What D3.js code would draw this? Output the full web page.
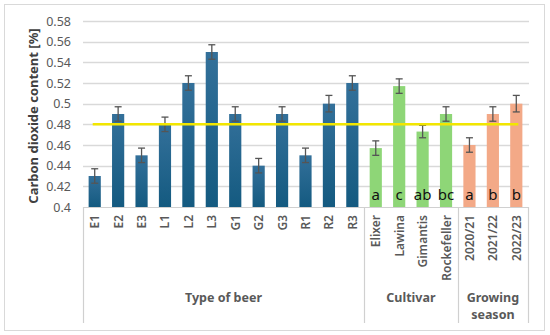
<!DOCTYPE html>
<html>
<head>
<meta charset="utf-8">
<script src="https://cdn.jsdelivr.net/npm/d3@7"></script>
<style>
  body { margin: 0; background: #fff; }
  svg { font-family: "Noto Sans", "Open Sans", sans-serif; }
</style>
</head>
<body>
<svg></svg>
<script>
// data
const categories = ['E1','E2','E3','L1','L2','L3','G1','G2','G3','R1','R2','R3',
    'Elixer','Lawina','Gimantis','Rockefeller','2020/21','2021/22','2022/23'];
const values = [0.43,0.49,0.45,0.48,0.52,0.55,0.49,0.44,0.49,0.45,0.50,0.52,
    0.457,0.517,0.473,0.49,0.46,0.49,0.50];
const errors = [0.007,0.007,0.007,0.007,0.007,0.007,0.007,0.007,0.007,0.007,0.008,0.007,
    0.007,0.007,0.006,0.007,0.007,0.007,0.008];
const groupOf = ['beer','beer','beer','beer','beer','beer','beer','beer','beer','beer','beer','beer',
    'cultivar','cultivar','cultivar','cultivar','season','season','season'];
const letters = ['','','','','','','','','','','','','a','c','ab','bc','a','b','b'];
const groups = [
    {key: 'beer', first: 'E1', last: 'R3', label: ['Type of beer']},
    {key: 'cultivar', first: 'Elixer', last: 'Rockefeller', label: ['Cultivar']},
    {key: 'season', first: '2020/21', last: '2022/23', label: ['Growing', 'season']}
];
const yTicks = [0.4,0.42,0.44,0.46,0.48,0.5,0.52,0.54,0.56,0.58];
const meanLine = 0.48;

const size = {w: 550, h: 335};
const plot = {l: 83, r: 528, t: 21, b: 207};
const svg = d3.select('svg').attr('width', size.w).attr('height', size.h);

// chart frame
svg.append('rect')
    .attr('x', 4.5).attr('y', 4.5)
    .attr('width', 540).attr('height', 326)
    .attr('fill', '#fff').attr('stroke', '#d9d9d9');

const x = d3.scaleBand()
    .domain(categories)
    .range([plot.l, plot.r])
    .paddingInner(0.48)
    .paddingOuter(0.24);
const y = d3.scaleLinear().domain([0.4, 0.58]).range([plot.b, plot.t]);

const colors = {beer: 'url(#gBlue)', cultivar: '#8ed677', season: '#f3a987'};

const defs = svg.append('defs');
const grad = defs.append('linearGradient').attr('id', 'gBlue')
    .attr('x1', 0).attr('y1', 0).attr('x2', 0).attr('y2', 1);
grad.append('stop').attr('offset', 0).attr('stop-color', '#33709a');
grad.append('stop').attr('offset', 1).attr('stop-color', '#145a80');

// gridlines
svg.append('g')
    .selectAll('line')
    .data(yTicks.slice(1))
    .join('line')
    .attr('x1', plot.l).attr('x2', plot.r + 1)
    .attr('y1', d => Math.round(y(d)) + 0.5).attr('y2', d => Math.round(y(d)) + 0.5)
    .attr('stroke', '#d9d9d9').attr('stroke-width', 1.5);

// y axis tick labels
const yAxis = d3.axisLeft(y).tickValues(yTicks).tickSize(0).tickPadding(12)
    .tickFormat(d => String(+d.toFixed(2)));
svg.append('g')
    .attr('transform', `translate(${plot.l},0)`)
    .call(yAxis)
    .call(g => g.select('.domain').remove())
    .selectAll('text')
    .attr('font-size', 12.5).attr('fill', '#595959')
    .style('font-family', '"Noto Sans", sans-serif');

// bars
svg.append('g')
    .selectAll('rect')
    .data(categories)
    .join('rect')
    .attr('x', d => x(d))
    .attr('width', x.bandwidth())
    .attr('y', (d, i) => y(values[i]))
    .attr('height', (d, i) => plot.b - y(values[i]))
    .attr('fill', (d, i) => colors[groupOf[i]]);

// error bars
const eb = svg.append('g').attr('stroke', '#555').attr('stroke-width', 1.3);
categories.forEach((c, i) => {
    const cx = x(c) + x.bandwidth() / 2;
    const y1 = y(values[i] + errors[i]), y2 = y(values[i] - errors[i]);
    eb.append('line').attr('x1', cx).attr('x2', cx).attr('y1', y1).attr('y2', y2);
    eb.append('line').attr('x1', cx - 3.5).attr('x2', cx + 3.5).attr('y1', y1).attr('y2', y1);
    eb.append('line').attr('x1', cx - 3.5).attr('x2', cx + 3.5).attr('y1', y2).attr('y2', y2);
});

// mean line
const firstC = x(categories[0]) + x.bandwidth() / 2;
const lastC = x(categories[categories.length - 1]) + x.bandwidth() / 2;
svg.append('line')
    .attr('x1', firstC - 2).attr('x2', lastC + 2)
    .attr('y1', y(meanLine)).attr('y2', y(meanLine))
    .attr('stroke', '#f2e600').attr('stroke-width', 2.5);

// significance letters
svg.append('g')
    .selectAll('text')
    .data(categories)
    .join('text')
    .attr('x', d => x(d) + x.bandwidth() / 2)
    .attr('y', 200)
    .attr('text-anchor', 'middle')
    .attr('font-size', 15)
    .attr('fill', '#111')
    .text((d, i) => letters[i]);

// x axis line + group separators
svg.append('line')
    .attr('x1', plot.l).attr('x2', plot.r)
    .attr('y1', plot.b + 0.5).attr('y2', plot.b + 0.5)
    .attr('stroke', '#d0d0d0').attr('stroke-width', 1.2);

const step = x.step();
const sepX = [plot.l];
groups.forEach(g => {
    sepX.push(x(g.last) + x.bandwidth() + (step - x.bandwidth()) / 2);
});
sepX[sepX.length - 1] = plot.r;
svg.append('g')
    .selectAll('line')
    .data(sepX)
    .join('line')
    .attr('x1', d => Math.round(d) + 0.5).attr('x2', d => Math.round(d) + 0.5)
    .attr('y1', plot.b).attr('y2', 323)
    .attr('stroke', '#d0d0d0').attr('stroke-width', 1.2);

// category labels (rotated)
svg.append('g')
    .selectAll('text')
    .data(categories)
    .join('text')
    .attr('transform', d => `translate(${x(d) + x.bandwidth() / 2 + 4.5},215) rotate(-90)`)
    .attr('text-anchor', 'end')
    .attr('font-size', 12)
    .attr('font-weight', 600)
    .attr('fill', '#595959')
    .text(d => d);

// group labels
groups.forEach((g, i) => {
    const cx = (sepX[i] + sepX[i + 1]) / 2;
    const t = svg.append('text')
        .attr('x', cx)
        .attr('y', 302)
        .attr('text-anchor', 'middle')
        .attr('font-size', 12.5)
        .attr('font-weight', 'bold')
        .attr('fill', '#595959');
    g.label.forEach((line, j) => {
        t.append('tspan').attr('x', cx).attr('dy', j === 0 ? 0 : 17).text(line);
    });
});

// y axis title
svg.append('text')
    .attr('transform', `translate(38,${(plot.t + plot.b) / 2 + 2}) rotate(-90)`)
    .attr('text-anchor', 'middle')
    .attr('font-size', 13)
    .attr('font-weight', 'bold')
    .attr('fill', '#404040')
    .text('Carbon dioxide content [%]');
</script>
</body>
</html>
